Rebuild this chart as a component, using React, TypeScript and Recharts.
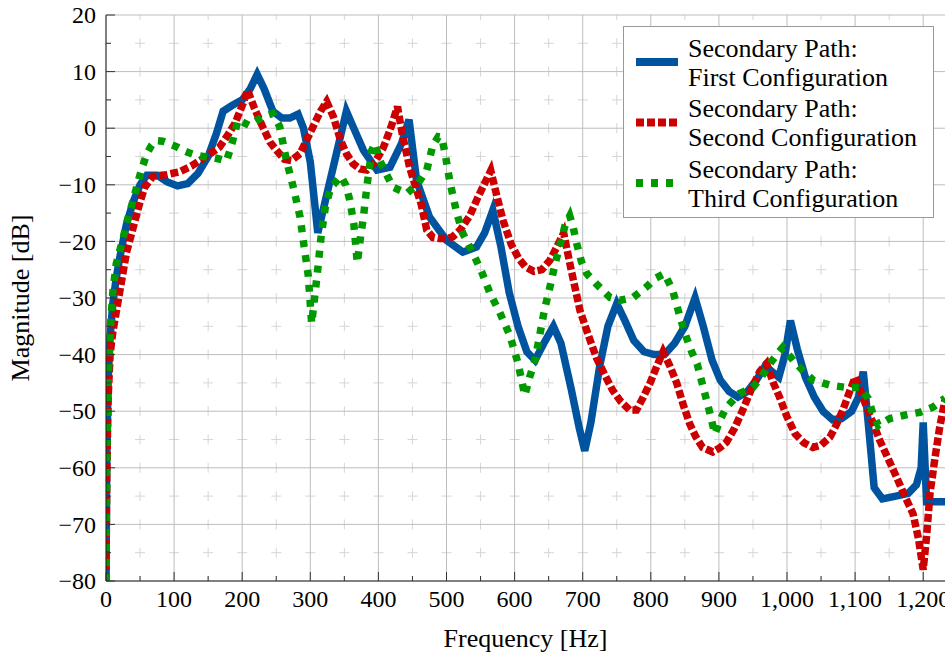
import { LineChart, Line, XAxis, YAxis, CartesianGrid } from 'recharts'

// [frequency in Hz, magnitude in dB]
const firstPath: [number, number][] = [
  [0, -80], [1, -60], [3, -45], [6, -37], [10, -31], [15, -26.5], [20, -23], [30, -17],
  [40, -13], [50, -10], [60, -8.3], [75, -8.3], [90, -9.5], [105, -10.2], [120, -9.8],
  [135, -8], [150, -5], [162, -1], [172, 3], [185, 4], [200, 5], [212, 7], [222, 9.5],
  [232, 7], [245, 3], [258, 1.8], [270, 1.8], [282, 2.5], [290, 0], [300, -6], [311, -18.5],
  [353, 3], [362, 0.5], [378, -3.9], [398, -7.4], [417, -6.9], [434, -2.7], [445, 1.5],
  [456, -9.2], [475, -15.7], [500, -19.8], [524, -21.9], [544, -21], [556, -18.5], [568, -14.5],
  [580, -21], [592, -29], [605, -35], [618, -39.5], [630, -41], [643, -38], [657, -35],
  [668, -38], [683, -46], [695, -53], [703, -57], [712, -52], [725, -42], [737, -35],
  [750, -31], [762, -34], [775, -37.5], [790, -39.5], [805, -40], [820, -40], [835, -38],
  [850, -35], [865, -30], [877, -35], [890, -41], [902, -44.5], [915, -46.5], [928, -47.5],
  [942, -46.5], [955, -44.5], [968, -42], [978, -43], [988, -44], [997, -40], [1005, -34],
  [1015, -39], [1027, -44], [1040, -47.5], [1053, -50], [1067, -51.5], [1080, -51.3],
  [1095, -50], [1105, -47.5], [1112, -43], [1120, -53], [1128, -63.5], [1140, -65.5],
  [1160, -65], [1178, -64.5], [1190, -63], [1197, -60], [1200, -52], [1205, -66], [1232, -66],
]

const secondPath: [number, number][] = [
  [0, -80], [1, -62], [3, -48], [6, -40], [10, -36], [20, -29], [30, -22], [40, -17.5],
  [50, -13], [57, -10.4], [69, -8.5], [89, -8.2], [108, -7.7], [125, -6.7], [138, -5.7],
  [153, -4.5], [167, -3.3], [180, -1], [190, 1], [200, 4], [208, 6.7], [218, 3.5], [231, 0],
  [241, -2.5], [251, -4], [262, -5.5], [272, -5.7], [285, -4.5], [295, -2], [305, 0.5],
  [315, 3], [324, 4.7], [334, 2], [344, -2], [353, -4.5], [363, -6.3], [373, -7.2],
  [383, -7.4], [395, -6], [407, -3.5], [418, 0], [428, 3.8], [435, -1], [446, -7],
  [455, -10.5], [463, -13.5], [471, -18], [480, -19.3], [490, -19.5], [500, -19.5],
  [509, -19.2], [520, -18], [534, -15.5], [545, -12.5], [557, -9.5], [565, -7.5], [574, -12],
  [583, -16.3], [595, -20.5], [606, -23], [616, -24.5], [628, -25.3], [640, -25], [652, -23.3],
  [662, -21], [672, -18.5], [683, -25], [696, -32.2], [708, -36.5], [720, -40.5], [732, -43.5],
  [744, -46.3], [756, -48.3], [769, -49.8], [779, -49.8], [789, -47.5], [799, -45], [809, -42],
  [818, -39.5], [828, -42], [838, -45], [848, -49], [857, -52.2], [866, -54.5], [876, -56.4],
  [891, -57.2], [901, -56.5], [911, -55.5], [923, -53], [935, -49.8], [948, -46], [960, -43],
  [970, -41.6], [980, -45], [989, -47.5], [1000, -51], [1012, -54], [1025, -55.6],
  [1038, -56.4], [1050, -56], [1063, -54.6], [1072, -52.5], [1082, -49.8], [1092, -46.5],
  [1100, -44], [1108, -46.5], [1117, -49.3], [1127, -52.3], [1136, -55.1], [1149, -58.5],
  [1161, -61.7], [1173, -65], [1185, -68.1], [1193, -72.5], [1200, -78], [1205, -72],
  [1210, -64.5], [1217, -58.5], [1224, -53], [1232, -48],
]

const thirdPath: [number, number][] = [
  [0, -80], [1, -60], [3, -45], [6, -36], [10, -29], [15, -24], [25, -19.5], [32, -16],
  [40, -12.7], [47, -9.5], [53, -7], [60, -4.5], [67, -3], [73, -2.2], [83, -2.3], [94, -2.8],
  [104, -3.3], [113, -3.9], [123, -4.4], [133, -4.8], [143, -5], [153, -5.1], [165, -5.4],
  [177, -5.8], [185, -2.7], [194, 1.5], [210, 0.5], [230, 2], [245, 2.6], [255, 0.3],
  [265, -5.7], [275, -10.4], [285, -15.7], [291, -21], [297, -26], [302, -34.5], [310, -26],
  [316, -19], [322, -14], [330, -10.5], [345, -8.5], [352, -10], [358, -12.7], [364, -17],
  [369, -23.8], [374, -19], [378, -15.7], [383, -10.4], [390, -4], [395, -2.7], [402, -5.7],
  [421, -10.4], [442, -11.5], [458, -9.8], [471, -7.4], [480, -3], [488, -1.5], [493, -1.6],
  [498, -4.5], [505, -9.5], [515, -15], [524, -18.6], [539, -22.1], [552, -25.5], [564, -29.2],
  [578, -32.5], [593, -36.6], [605, -41.5], [615, -47.2], [622, -44], [630, -41], [637, -36.5],
  [644, -32], [652, -28], [659, -24.2], [667, -20.5], [674, -17.2], [681, -15.5], [686, -17.5],
  [691, -20.3], [698, -23.5], [706, -25.7], [720, -27.5], [740, -29.9], [755, -30.4],
  [774, -29.9], [794, -28], [807, -26.5], [820, -25.7], [832, -28.6], [843, -33.4],
  [852, -36.9], [860, -39.5], [868, -41.6], [877, -45.8], [885, -49.5], [894, -54],
  [902, -51.5], [911, -49.3], [930, -46.9], [950, -45.8], [962, -44], [975, -41.6], [985, -40],
  [994, -38.7], [1009, -41], [1023, -42.8], [1038, -44.5], [1063, -45.4], [1087, -45.8],
  [1107, -45.8], [1119, -47.7], [1126, -50.4], [1134, -52.5], [1151, -51.3], [1173, -50.7],
  [1195, -50.2], [1214, -49.3], [1232, -47.7],
]

const xTicks = [
  0, 50, 100, 150, 200, 250, 300, 350, 400, 450, 500, 550, 600, 650, 700, 750, 800, 850,
  900, 950, 1000, 1050, 1100, 1150, 1200,
]
const yTicks = [-80, -75, -70, -65, -60, -55, -50, -45, -40, -35, -30, -25, -20, -15, -10, -5, 0, 5, 10, 15, 20]

const seriesNames = [
  ['Secondary Path:', 'First Configuration'],
  ['Secondary Path:', 'Second Configuration'],
  ['Secondary Path:', 'Third Configuration'],
]

const BLUE = '#00549f'
const RED = '#cc0000'
const GREEN = '#009a00'
const FONT = "'Liberation Serif', 'Times New Roman', serif"
const TICK_FONT = 24
const TITLE_FONT = 26
const TICK_MARGIN = 10
const TICK_COLOR = '#333'

const toRows = (pts: [number, number][]) => pts.map(([f, m]) => ({ f, m }))

const isMajorX = (v: number) => v % 100 === 0
const isMajorY = (v: number) => v % 10 === 0
const fmtNum = (v: number) => v.toLocaleString('en-US').replace('-', '\u2212')

function BottomTick(props: any) {
  const { x, y, payload } = props
  const major = isMajorX(payload.value)
  const axisY = y - TICK_MARGIN
  return (
    <g>
      <line x1={x} x2={x} y1={axisY} y2={axisY - (major ? 9 : 5)} stroke={TICK_COLOR} />
      {major && (
        <text x={x} y={y} dy="0.68em" textAnchor="middle" fontSize={TICK_FONT} fontFamily={FONT} fill="#000">
          {fmtNum(payload.value)}
        </text>
      )}
    </g>
  )
}

function TopTick(props: any) {
  const { x, y, payload } = props
  const major = isMajorX(payload.value)
  return <line x1={x} x2={x} y1={y} y2={y + (major ? 9 : 5)} stroke={TICK_COLOR} />
}

function LeftTick(props: any) {
  const { x, y, payload } = props
  const major = isMajorY(payload.value)
  const axisX = x + TICK_MARGIN
  return (
    <g>
      <line x1={axisX} x2={axisX + (major ? 9 : 5)} y1={y} y2={y} stroke={TICK_COLOR} />
      {major && (
        <text x={x} y={y} dy="0.34em" textAnchor="end" fontSize={TICK_FONT} fontFamily={FONT} fill="#000">
          {fmtNum(payload.value)}
        </text>
      )}
    </g>
  )
}

function XLabel({ viewBox }: any) {
  return (
    <text x={viewBox.x + viewBox.width / 2} y={viewBox.y + 57} dy="0.34em" textAnchor="middle" fontSize={TITLE_FONT} fontFamily={FONT} fill="#000">
      Frequency [Hz]
    </text>
  )
}

function YLabel({ viewBox }: any) {
  const cx = viewBox.x + 20
  const cy = viewBox.y + viewBox.height / 2
  return (
    <text x={cx} y={cy} dy="0.34em" transform={`rotate(-90, ${cx}, ${cy})`} textAnchor="middle" fontSize={TITLE_FONT} fontFamily={FONT} fill="#000">
      Magnitude [dB]
    </text>
  )
}

function LegendBox() {
  const styles = [
    { color: BLUE, dash: undefined },
    { color: RED, dash: '8 3' },
    { color: GREEN, dash: '7 8' },
  ]
  return (
    <svg width={312} height={193} style={{ position: 'absolute', left: 623, top: 26 }}>
      <rect x={0.5} y={0.5} width={310} height={191} fill="#fff" stroke="#999" />
      {seriesNames.map((lines, i) => {
        const cy = 36 + i * 60.5
        return (
          <g key={i}>
            <line x1={13} x2={55} y1={cy} y2={cy} stroke={styles[i].color} strokeWidth={8} strokeDasharray={styles[i].dash} />
            <text x={65} y={cy - 14} dy="0.34em" fontSize={TITLE_FONT} fontFamily={FONT} fill="#000">{lines[0]}</text>
            <text x={65} y={cy + 15} dy="0.34em" fontSize={TITLE_FONT} fontFamily={FONT} fill="#000">{lines[1]}</text>
          </g>
        )
      })}
    </svg>
  )
}

export default function App() {
  return (
    <div style={{ position: 'absolute', left: 0, top: 0, width: 945, height: 657, background: '#fff', overflow: 'hidden' }}>
      <LineChart width={945} height={657} margin={{ top: 15, right: 0, bottom: 0, left: 0 }}>
        {/* minor grid: dashed, vertical and horizontal drawn separately so the dashes sit on the crossings */}
        <CartesianGrid
          horizontal={false}
          stroke="#d6d6d6"
          strokeDasharray="10 18.3"
          strokeDashoffset={5}
          verticalValues={xTicks.filter((v) => !isMajorX(v))}
        />
        <CartesianGrid
          vertical={false}
          stroke="#d6d6d6"
          strokeDasharray="10 24.06"
          strokeDashoffset={5}
          horizontalValues={yTicks.filter((v) => !isMajorY(v))}
        />
        <CartesianGrid
          stroke="#bdbdbd"
          verticalValues={xTicks.filter(isMajorX)}
          horizontalValues={yTicks.filter(isMajorY)}
        />
        <XAxis
          dataKey="f"
          type="number"
          domain={[0, 1232]}
          ticks={xTicks}
          allowDataOverflow
          height={76}
          tickSize={0}
          tickMargin={TICK_MARGIN}
          tickLine={false}
          axisLine={{ stroke: '#222' }}
          tick={<BottomTick />}
          interval={0}
          label={<XLabel />}
        />
        <XAxis
          xAxisId="top"
          orientation="top"
          dataKey="f"
          type="number"
          domain={[0, 1232]}
          ticks={xTicks}
          allowDataOverflow
          height={0}
          tickSize={0}
          tickMargin={0}
          tickLine={false}
          axisLine={{ stroke: '#222' }}
          tick={<TopTick />}
          interval={0}
        />
        <YAxis
          type="number"
          domain={[-80, 20]}
          ticks={yTicks}
          allowDataOverflow
          width={106}
          tickSize={0}
          tickMargin={TICK_MARGIN}
          tickLine={false}
          axisLine={{ stroke: '#222' }}
          tick={<LeftTick />}
          interval={0}
          label={<YLabel />}
        />
        <Line data={toRows(firstPath)} dataKey="m" type="linear" stroke={BLUE} strokeWidth={7.5} dot={false} activeDot={false} isAnimationActive={false} />
        <Line data={toRows(secondPath)} dataKey="m" type="linear" stroke={RED} strokeWidth={7.5} strokeDasharray="8 3" dot={false} activeDot={false} isAnimationActive={false} />
        <Line data={toRows(thirdPath)} dataKey="m" type="linear" stroke={GREEN} strokeWidth={7.5} strokeDasharray="7 8" dot={false} activeDot={false} isAnimationActive={false} />
      </LineChart>
      <LegendBox />
    </div>
  )
}
